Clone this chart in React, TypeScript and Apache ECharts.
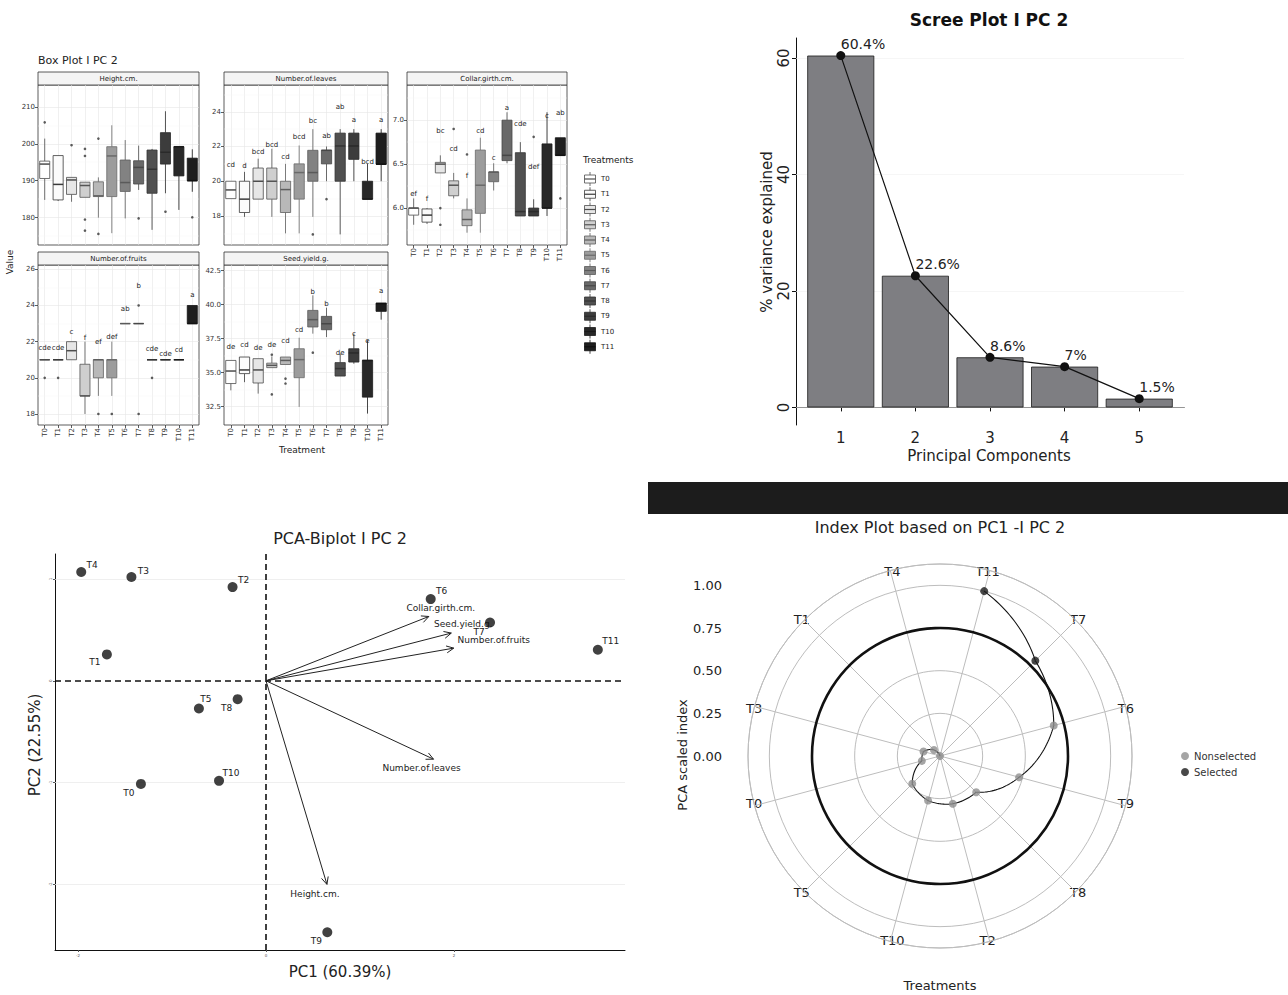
import { useEffect, useRef } from 'react';
import * as echarts from 'echarts';

const FONT = '"DejaVu Sans", sans-serif';

// ---------- Box plot data ----------
const treatments = ['T0', 'T1', 'T2', 'T3', 'T4', 'T5', 'T6', 'T7', 'T8', 'T9', 'T10', 'T11'];
const boxFills = ['#ffffff', '#fbfbfb', '#e6e6e6', '#cfcfcf', '#b8b8b8', '#9c9c9c', '#828282', '#696969', '#505050', '#3c3c3c', '#282828', '#1e1e1e'];
const boxLines = ['#4d4d4d', '#3a3a3a', '#4d4d4d', '#555555', '#5e5e5e', '#6a6a6a', '#5a5a5a', '#474747', '#333333', '#2a2a2a', '#1a1a1a', '#111111'];

// [lower whisker, Q1, median, Q3, upper whisker]
const heightStats = [
  [184.8, 190.6, 194.5, 195.3, 201.4], [184.5, 184.8, 189.0, 196.8, 196.8], [184.3, 186.3, 190.2, 190.9, 190.9],
  [185.5, 185.5, 188.7, 189.6, 189.6], [180.0, 185.7, 185.9, 189.7, 190.9], [175.8, 185.7, 196.7, 199.2, 205.0],
  [179.8, 187.1, 189.5, 195.6, 201.0], [187.5, 189.1, 193.6, 195.4, 199.5], [176.7, 186.6, 193.1, 198.3, 198.6],
  [186.6, 194.5, 197.7, 203.0, 208.8], [182.1, 191.3, 199.2, 199.2, 199.2], [187.0, 190.0, 190.0, 196.1, 198.5],
];
const heightOutliers = [[0, 205.8], [2, 199.6], [3, 198.6], [3, 196.7], [3, 179.5], [3, 176.5], [4, 201.4], [4, 175.6], [7, 179.8], [9, 181.6], [11, 180.1]];
const heightLetters: string[] = [];
const heightLetterY: number[] = [];
const heightRange = [172.6, 215.9];
const heightTicks = [180, 190, 200, 210];
const heightMinor = [175, 185, 195, 205, 215];

const leavesStats = [
  [19.0, 19.0, 19.5, 20.0, 20.0], [17.95, 18.2, 18.97, 20.0, 20.54], [18.97, 18.97, 20.0, 20.76, 21.3],
  [17.95, 18.97, 20.0, 20.76, 21.87], [17.0, 18.2, 19.52, 20.0, 21.0], [17.0, 18.97, 20.5, 21.0, 22.06],
  [17.95, 20.0, 20.5, 21.78, 23.0], [20.0, 21.0, 21.78, 21.78, 22.0], [16.94, 20.0, 22.03, 22.77, 23.0],
  [20.0, 21.26, 22.03, 22.77, 23.0], [18.97, 18.97, 18.97, 20.0, 21.0], [20.0, 20.98, 20.98, 22.77, 23.0],
];
const leavesOutliers = [[6, 16.94], [7, 18.97]];
const leavesLetters = ['cd', 'd', 'bcd', 'bcd', 'cd', 'bcd', 'bc', 'ab', 'ab', 'a', 'bcd', 'a'];
const leavesLetterY = [20.93, 20.9, 21.7, 22.08, 21.38, 22.52, 23.46, 22.6, 24.29, 23.52, 21.09, 23.52];
const leavesRange = [16.33, 25.54];
const leavesTicks = [18, 20, 22, 24];
const leavesMinor = [17, 19, 21, 23, 25];

const collarStats = [
  [5.81, 5.92, 6.0, 6.0, 6.11], [5.82, 5.84, 5.92, 5.99, 6.0], [6.4, 6.4, 6.5, 6.52, 6.6],
  [6.11, 6.14, 6.26, 6.31, 6.4], [5.72, 5.8, 5.87, 5.98, 6.11], [5.72, 5.94, 6.26, 6.66, 6.8],
  [6.2, 6.3, 6.41, 6.41, 6.51], [6.51, 6.54, 6.6, 7.0, 7.09], [5.91, 5.91, 5.96, 6.63, 6.75],
  [5.91, 5.91, 5.96, 6.0, 6.1], [5.91, 6.0, 6.0, 6.73, 7.09], [6.6, 6.6, 6.6, 6.8, 6.8],
];
const collarOutliers = [[2, 6.0], [2, 5.81], [3, 6.9], [4, 6.61], [9, 6.81], [11, 6.11]];
const collarLetters = ['ef', 'f', 'bc', 'cd', 'f', 'cd', 'c', 'a', 'cde', 'def', 'c', 'ab'];
const collarLetterY = [6.16, 6.1, 6.88, 6.67, 6.36, 6.88, 6.57, 7.14, 6.96, 6.47, 7.05, 7.08];
const collarRange = [5.58, 7.4];
const collarTicks = [6.0, 6.5, 7.0];
const collarMinor = [5.75, 6.25, 6.75, 7.25];

const fruitsStats = [
  [21, 21, 21, 21, 21], [21, 21, 21, 21, 21], [21, 21, 21.5, 22, 22],
  [18, 19, 19, 20.75, 22], [19, 20, 21, 21, 21], [19, 20, 21, 21, 22],
  [23, 23, 23, 23, 23], [23, 23, 23, 23, 23], [21, 21, 21, 21, 21],
  [21, 21, 21, 21, 21], [21, 21, 21, 21, 21], [23, 23, 23, 24, 24],
];
const fruitsOutliers = [[0, 20], [1, 20], [4, 18], [5, 18], [7, 24], [7, 18], [8, 20]];
const fruitsLetters = ['cde', 'cde', 'c', 'f', 'ef', 'def', 'ab', 'b', 'cde', 'cde', 'cd', 'a'];
const fruitsLetterY = [21.67, 21.67, 22.55, 22.2, 21.96, 22.24, 23.8, 25.1, 21.6, 21.3, 21.55, 24.6];
const fruitsRange = [17.39, 26.24];
const fruitsTicks = [18, 20, 22, 24, 26];
const fruitsMinor = [19, 21, 23, 25];

const seedStats = [
  [33.7, 34.2, 35.12, 35.9, 35.9], [34.3, 34.93, 35.2, 36.15, 36.15], [33.46, 34.24, 35.2, 36.03, 36.03],
  [35.37, 35.37, 35.54, 35.7, 36.2], [35.6, 35.6, 35.9, 36.15, 36.15], [32.48, 34.63, 35.96, 36.76, 37.57],
  [37.87, 38.36, 38.9, 39.58, 40.69], [37.62, 38.16, 38.6, 39.14, 39.78], [34.75, 34.75, 35.3, 35.74, 36.4],
  [35.66, 35.78, 36.45, 36.76, 37.87], [31.99, 33.2, 35.9, 35.9, 37.38], [38.9, 39.51, 40.08, 40.12, 40.12],
];
const seedOutliers = [[3, 36.32], [3, 33.4], [4, 34.56], [4, 34.2], [6, 36.47]];
const seedLetters = ['de', 'cd', 'de', 'de', 'cd', 'cd', 'b', 'b', 'de', 'c', 'e', 'a'];
const seedLetterY = [36.9, 37.03, 36.8, 37.03, 37.35, 38.14, 40.9, 40.05, 36.47, 37.84, 37.35, 41.0];
const seedRange = [31.15, 42.92];
const seedTicks = [32.5, 35.0, 37.5, 40.0, 42.5];
const seedMinor = [33.75, 36.25, 38.75, 41.25];

// ---------- Scree data ----------
const pcs = [1, 2, 3, 4, 5];
const varExplained = [60.4, 22.6, 8.6, 7, 1.5];

// ---------- Biplot data ----------
const biNames = ['T0', 'T1', 'T2', 'T3', 'T4', 'T5', 'T6', 'T7', 'T8', 'T9', 'T10', 'T11'];
const biPC1 = [-1.331, -1.693, -0.356, -1.432, -1.966, -0.714, 1.752, 2.383, -0.302, 0.652, -0.5, 3.53];
const biPC2 = [-1.013, 0.259, 0.921, 1.02, 1.069, -0.272, 0.803, 0.573, -0.18, -2.471, -0.983, 0.305];
const loadNames = ['Collar.girth.cm.', 'Seed.yield.g.', 'Number.of.fruits', 'Number.of.leaves', 'Height.cm.'];
const loadPC1 = [1.732, 1.971, 1.997, 1.782, 0.648];
const loadPC2 = [0.632, 0.469, 0.321, -0.77, -2.0];

// ---------- Index plot data ----------
const idxOrder = ['T11', 'T7', 'T6', 'T9', 'T8', 'T2', 'T10', 'T5', 'T0', 'T3', 'T1', 'T4'];
const idxValue = [1.0, 0.79, 0.69, 0.48, 0.3, 0.29, 0.27, 0.23, 0.11, 0.1, 0.05, 0.0];
const idxSelected = [true, true, false, false, false, false, false, false, false, false, false, false];
const idxThreshold = 0.75;

// ---------- layout (pixels) ----------
const panelLayout = [
  { left: 38, top: 85, width: 161, height: 160, showX: false, digits: 0 },
  { left: 224, top: 85, width: 164, height: 160, showX: false, digits: 0 },
  { left: 407, top: 85, width: 160, height: 160, showX: true, digits: 1 },
  { left: 38, top: 265, width: 161, height: 160, showX: true, digits: 0 },
  { left: 224, top: 265, width: 164, height: 160, showX: true, digits: 1 },
];
const biLabelOffset: Record<string, number[]> = {
  T0: [-12, 9], T1: [-12, 8], T2: [11, -7], T3: [12, -6], T4: [11, -7], T5: [7, -9],
  T6: [11, -8], T7: [-11, 10], T8: [-11, 9], T9: [-11, 9], T10: [12, -8], T11: [13, -9],
};
const loadLabelOffset = [[12, -8], [12, -9], [40, -8], [-12, 9], [-12, 10]];

function buildOption() {
  const panels = [
    { title: 'Height.cm.', stats: heightStats, outliers: heightOutliers, letters: heightLetters, letterY: heightLetterY, range: heightRange, ticks: heightTicks, minor: heightMinor },
    { title: 'Number.of.leaves', stats: leavesStats, outliers: leavesOutliers, letters: leavesLetters, letterY: leavesLetterY, range: leavesRange, ticks: leavesTicks, minor: leavesMinor },
    { title: 'Collar.girth.cm.', stats: collarStats, outliers: collarOutliers, letters: collarLetters, letterY: collarLetterY, range: collarRange, ticks: collarTicks, minor: collarMinor },
    { title: 'Number.of.fruits', stats: fruitsStats, outliers: fruitsOutliers, letters: fruitsLetters, letterY: fruitsLetterY, range: fruitsRange, ticks: fruitsTicks, minor: fruitsMinor },
    { title: 'Seed.yield.g.', stats: seedStats, outliers: seedOutliers, letters: seedLetters, letterY: seedLetterY, range: seedRange, ticks: seedTicks, minor: seedMinor },
  ];

  const grids: any[] = [];
  const xAxes: any[] = [];
  const yAxes: any[] = [];
  const series: any[] = [];
  const graphics: any[] = [];

  const txt = (text: string, x: number, y: number, size: number, opts: any = {}) => ({
    type: 'text', x, y, rotation: opts.rotation || 0, silent: true,
    style: {
      text, fontSize: size, fontFamily: FONT, fill: opts.color || '#222', fontWeight: opts.weight || 'normal',
      align: opts.align || 'center', verticalAlign: opts.valign || 'middle',
      textAlign: opts.align || 'center', textVerticalAlign: opts.valign || 'middle',
    },
  });
  const plainLabel = { textBorderWidth: 0, textBorderColor: 'transparent', textShadowBlur: 0 };

  // ---------- Box plot panels ----------
  panels.forEach((p, k) => {
    const L = panelLayout[k];
    grids.push({ left: L.left, top: L.top, width: L.width, height: L.height, show: true, borderColor: '#333', borderWidth: 0.8, backgroundColor: '#fff' });
    xAxes.push({
      gridIndex: k, type: 'category', data: treatments, boundaryGap: true,
      axisLine: { show: false },
      axisTick: { show: L.showX, alignWithLabel: true, length: 3, lineStyle: { color: '#333', width: 0.8 } },
      axisLabel: { show: L.showX, rotate: 90, fontSize: 7, color: '#333', margin: 3, fontFamily: FONT, interval: 0 },
      splitLine: { show: false },
    });
    yAxes.push({
      gridIndex: k, type: 'value', min: p.range[0], max: p.range[1],
      axisLine: { show: false },
      axisTick: { show: true, length: 3, customValues: p.ticks, lineStyle: { color: '#333', width: 0.8 } },
      axisLabel: { customValues: p.ticks, fontSize: 7, color: '#333', margin: 3, fontFamily: FONT, formatter: (v: number) => Number(v).toFixed(L.digits) },
      splitLine: { show: false },
    });
    graphics.push({ type: 'rect', silent: true, shape: { x: L.left, y: L.top - 13, width: L.width, height: 13 }, style: { fill: '#f4f4f4', stroke: '#333', lineWidth: 0.8 } });
    graphics.push(txt(p.title, L.left + L.width / 2, L.top - 6.5, 7));

    const stats = p.stats;
    series.push({
      type: 'custom', xAxisIndex: k, yAxisIndex: k, z: 3, silent: true,
      data: stats.map((s, i) => [i, ...s]),
      encode: { x: 0, y: [1, 2, 3, 4, 5] },
      renderItem: (params: any, api: any) => {
        const i = params.dataIndex;
        const s = stats[i];
        const x = api.coord([i, s[2]])[0];
        const w = api.size([1, 0])[0] * 0.75;
        const yy = s.map((v) => api.coord([i, v])[1]);
        const stroke = boxLines[i];
        return {
          type: 'group',
          children: [
            { type: 'line', shape: { x1: x, y1: yy[4], x2: x, y2: yy[3] }, style: { stroke, lineWidth: 0.8 } },
            { type: 'line', shape: { x1: x, y1: yy[1], x2: x, y2: yy[0] }, style: { stroke, lineWidth: 0.8 } },
            { type: 'rect', shape: { x: x - w / 2, y: yy[3], width: w, height: Math.max(yy[1] - yy[3], 0.01) }, style: { fill: boxFills[i], stroke, lineWidth: 0.8 } },
            { type: 'line', shape: { x1: x - w / 2, y1: yy[2], x2: x + w / 2, y2: yy[2] }, style: { stroke, lineWidth: 1.5 } },
          ],
        };
      },
    });
    series.push({
      type: 'scatter', xAxisIndex: k, yAxisIndex: k, z: 4, silent: true, symbolSize: 2.6,
      itemStyle: { color: '#333' }, data: p.outliers,
      markLine: {
        silent: true, symbol: 'none', z: 1, label: { show: false },
        data: [
          ...treatments.map((_, i) => ({ xAxis: i, lineStyle: { color: '#e6e6e6', width: 0.6, type: 'solid' } })),
          ...p.ticks.map((v) => ({ yAxis: v, lineStyle: { color: '#e6e6e6', width: 0.6, type: 'solid' } })),
          ...p.minor.map((v) => ({ yAxis: v, lineStyle: { color: '#f2f2f2', width: 0.4, type: 'solid' } })),
        ],
      },
    });
    if (p.letters.length) {
      const letters = p.letters;
      series.push({
        type: 'custom', xAxisIndex: k, yAxisIndex: k, z: 5, silent: true,
        data: p.letterY.map((y, i) => [i, y]),
        encode: { x: 0, y: 1 },
        renderItem: (params: any, api: any) => {
          const pt = api.coord([api.value(0), api.value(1)]);
          return {
            type: 'group',
            children: [{
              type: 'text', x: pt[0], y: pt[1],
              style: { text: letters[params.dataIndex], fontSize: 7, fontFamily: FONT, fill: '#222', align: 'center', verticalAlign: 'middle' },
            }],
          };
        },
      });
    }
  });

  graphics.push(txt('Box Plot I PC 2', 38, 60, 11, { align: 'left' }));
  graphics.push(txt('Value', 10, 262, 9, { rotation: Math.PI / 2 }));
  graphics.push(txt('Treatment', 302, 450, 9));
  graphics.push(txt('Treatments', 583, 160, 9, { align: 'left' }));
  treatments.forEach((t, i) => {
    const y = 179 + i * 15.25;
    graphics.push({ type: 'line', silent: true, shape: { x1: 590, y1: y - 7, x2: 590, y2: y + 7 }, style: { stroke: boxLines[i], lineWidth: 0.8 } });
    graphics.push({ type: 'rect', silent: true, shape: { x: 584.5, y: y - 4, width: 11, height: 8 }, style: { fill: boxFills[i], stroke: boxLines[i], lineWidth: 0.8 } });
    graphics.push({ type: 'line', silent: true, shape: { x1: 584.5, y1: y, x2: 595.5, y2: y }, style: { stroke: boxLines[i], lineWidth: 1.2 } });
    graphics.push(txt(t, 601, y, 7, { align: 'left' }));
  });

  // ---------- Scree plot (grid 5) ----------
  grids.push({ left: 796, top: 38, width: 388, height: 387, show: false });
  xAxes.push({
    gridIndex: 5, type: 'value', min: 0.4, max: 5.6,
    axisLine: { show: true, lineStyle: { color: '#111', width: 1 } },
    axisTick: { show: true, customValues: pcs, length: 4, lineStyle: { color: '#111' } },
    axisLabel: { customValues: pcs, fontSize: 15, color: '#222', margin: 5, fontFamily: FONT },
    splitLine: { show: false },
  });
  yAxes.push({
    gridIndex: 5, type: 'value', min: -3.02, max: 63.42,
    axisLine: { show: true, lineStyle: { color: '#111', width: 1 } },
    axisTick: { show: true, customValues: [0, 20, 40, 60], length: 4, lineStyle: { color: '#111' } },
    axisLabel: { customValues: [0, 20, 40, 60], rotate: 90, fontSize: 15, color: '#222', margin: 5, fontFamily: FONT },
    splitLine: { show: false },
  });
  series.push({
    type: 'bar', xAxisIndex: 5, yAxisIndex: 5, z: 2, silent: true, barWidth: 67,
    data: pcs.map((c, i) => [c, varExplained[i]]),
    itemStyle: { color: '#7e7e82', borderColor: '#1a1a1a', borderWidth: 0.8 },
    markLine: {
      silent: true, symbol: 'none', z: 1, label: { show: false },
      data: [0, 20, 40, 60].map((v) => ({ yAxis: v, lineStyle: { color: '#f0f0f0', width: 0.6, type: 'solid' } })),
    },
  });
  series.push({
    type: 'line', xAxisIndex: 5, yAxisIndex: 5, z: 4, silent: true,
    data: pcs.map((c, i) => [c, varExplained[i]]),
    symbol: 'circle', symbolSize: 9, itemStyle: { color: '#111' }, lineStyle: { color: '#111', width: 1.2 },
    label: { show: true, position: 'top', align: 'left', distance: 0, fontSize: 14, color: '#222', fontFamily: FONT, formatter: (q: any) => `${q.value[1]}%`, ...plainLabel },
  });
  graphics.push(txt('Scree Plot I PC 2', 989, 20, 17, { weight: 'bold', color: '#111' }));
  graphics.push(txt('% variance explained', 767, 232, 15, { rotation: Math.PI / 2 }));
  graphics.push(txt('Principal Components', 989, 456, 15));

  // ---------- Biplot (grid 6) ----------
  grids.push({ left: 55, top: 554, width: 570, height: 396, show: false });
  xAxes.push({
    gridIndex: 6, type: 'value', min: -2.245, max: 3.819,
    axisLine: { show: true, onZero: false, lineStyle: { color: '#111', width: 1 } },
    axisTick: { show: true, customValues: [-2, 0, 2], length: 2, lineStyle: { color: '#555' } },
    axisLabel: { customValues: [-2, 0, 2], fontSize: 4, color: '#555', margin: 3, fontFamily: FONT },
    splitLine: { show: false },
  });
  yAxes.push({
    gridIndex: 6, type: 'value', min: -2.645, max: 1.246,
    axisLine: { show: true, onZero: false, lineStyle: { color: '#111', width: 1 } },
    axisTick: { show: true, customValues: [-2, -1, 0, 1], length: 2, lineStyle: { color: '#555' } },
    axisLabel: { customValues: [-2, -1, 0, 1], fontSize: 4, color: '#555', margin: 3, rotate: 90, fontFamily: FONT },
    splitLine: { show: false },
  });
  series.push({
    type: 'scatter', xAxisIndex: 6, yAxisIndex: 6, z: 4, silent: true, symbolSize: 10,
    itemStyle: { color: '#111' },
    data: biNames.map((n, i) => [biPC1[i], biPC2[i]]),
    markLine: {
      silent: true, symbol: 'none', z: 1, label: { show: false },
      data: [
        ...[-2, -1, 1].map((v) => ({ yAxis: v, lineStyle: { color: '#ebebeb', width: 0.8, type: 'solid' } })),
        { yAxis: 0, lineStyle: { color: '#111', width: 1.6, type: [6, 4] } },
        { xAxis: 0, lineStyle: { color: '#111', width: 1.6, type: [6, 4] } },
      ],
    },
  });
  series.push({
    type: 'custom', xAxisIndex: 6, yAxisIndex: 6, z: 5, silent: true,
    data: biNames.map((n, i) => [biPC1[i], biPC2[i]]),
    encode: { x: 0, y: 1 },
    renderItem: (params: any, api: any) => {
      const n = biNames[params.dataIndex];
      const pt = api.coord([api.value(0), api.value(1)]);
      const off = biLabelOffset[n];
      return {
        type: 'group',
        children: [{
          type: 'text', x: pt[0] + off[0], y: pt[1] + off[1],
          style: { text: n, fontSize: 9, fontFamily: FONT, fill: '#222', align: 'center', verticalAlign: 'middle' },
        }],
      };
    },
  });
  series.push({
    type: 'custom', xAxisIndex: 6, yAxisIndex: 6, z: 3, silent: true,
    data: loadNames.map((_, i) => [loadPC1[i], loadPC2[i]]),
    encode: { x: 0, y: 1 },
    renderItem: (params: any, api: any) => {
      const i = params.dataIndex;
      const o = api.coord([0, 0]);
      const e = api.coord([api.value(0), api.value(1)]);
      const ang = Math.atan2(e[1] - o[1], e[0] - o[0]);
      const len = 8, spread = Math.PI / 7;
      const p1 = [e[0] - len * Math.cos(ang - spread), e[1] - len * Math.sin(ang - spread)];
      const p2 = [e[0] - len * Math.cos(ang + spread), e[1] - len * Math.sin(ang + spread)];
      const off = loadLabelOffset[i];
      return {
        type: 'group',
        children: [
          { type: 'line', shape: { x1: o[0], y1: o[1], x2: e[0], y2: e[1] }, style: { stroke: '#222', lineWidth: 1 } },
          { type: 'polyline', shape: { points: [p1, e, p2] }, style: { stroke: '#222', lineWidth: 1, fill: 'none' } },
          { type: 'text', x: e[0] + off[0], y: e[1] + off[1], style: { text: loadNames[i], fontSize: 9, fontFamily: FONT, fill: '#222', align: 'center', verticalAlign: 'middle' } },
        ],
      };
    },
  });
  graphics.push(txt('PCA-Biplot I PC 2', 340, 538, 16));
  graphics.push(txt('PC1 (60.39%)', 340, 972, 15));
  graphics.push(txt('PC2 (22.55%)', 35, 745, 15, { rotation: Math.PI / 2 }));

  // ---------- Black band ----------
  graphics.push({ type: 'rect', silent: true, shape: { x: 648, y: 482, width: 640, height: 32 }, style: { fill: '#1c1c1c' } });

  // ---------- Index plot radius labels (grid 7) ----------
  grids.push({ left: 730, top: 564, width: 10, height: 192, show: false });
  xAxes.push({ gridIndex: 7, type: 'value', show: false });
  yAxes.push({
    gridIndex: 7, type: 'value', min: 0, max: 1.125, interval: 0.25,
    axisLine: { show: false }, axisTick: { show: false }, splitLine: { show: false },
    axisLabel: { fontSize: 13, color: '#222', margin: 8, fontFamily: FONT, formatter: (v: number) => (v > 1.001 ? '' : Number(v).toFixed(2)) },
  });
  graphics.push(txt('Index Plot based on PC1 -I PC 2', 940, 527, 16));
  graphics.push(txt('PCA scaled index', 682, 755, 13, { rotation: Math.PI / 2 }));
  graphics.push(txt('Treatments', 940, 985, 13));

  series.push({
    type: 'custom', coordinateSystem: 'polar', polarIndex: 0, z: 2, silent: true,
    data: [[idxThreshold, 0]],
    renderItem: (params: any, api: any) => {
      const c = api.coord([0, 0]);
      const r = api.coord([api.value(0), 0])[2];
      return { type: 'circle', shape: { cx: c[0], cy: c[1], r }, style: { fill: 'none', stroke: '#111', lineWidth: 2.6 } };
    },
  });
  series.push({
    type: 'custom', coordinateSystem: 'polar', polarIndex: 0, z: 3, silent: true,
    data: idxValue.map((v, i) => [v, i]),
    renderItem: (params: any, api: any) => {
      const i = params.dataIndex;
      if (i === 0) return { type: 'group', children: [] };
      const r0 = idxValue[i - 1], r1 = idxValue[i];
      const pts: number[][] = [];
      const steps = 24;
      for (let s = 0; s <= steps; s++) {
        const t = s / steps;
        const pt = api.coord([r0 + (r1 - r0) * t, i - 1 + t]);
        pts.push([pt[0], pt[1]]);
      }
      return { type: 'polyline', shape: { points: pts }, style: { stroke: '#111', lineWidth: 1.1, fill: 'none' } };
    },
  });
  series.push({
    name: 'Nonselected', type: 'scatter', coordinateSystem: 'polar', polarIndex: 0, z: 4, silent: true,
    symbolSize: 8, itemStyle: { color: '#8f8f8f' },
    data: idxValue.map((v, i) => (idxSelected[i] ? null : [v, i])).filter((d) => d),
  });
  series.push({
    name: 'Selected', type: 'scatter', coordinateSystem: 'polar', polarIndex: 0, z: 4, silent: true,
    symbolSize: 8, itemStyle: { color: '#1a1a1a' },
    data: idxValue.map((v, i) => (idxSelected[i] ? [v, i] : null)).filter((d) => d),
  });

  return {
    animation: false,
    backgroundColor: '#ffffff',
    textStyle: { fontFamily: FONT },
    grid: grids,
    xAxis: xAxes,
    yAxis: yAxes,
    polar: [{ center: [940, 756], radius: 192 }],
    angleAxis: [{
      polarIndex: 0, type: 'value', min: 0, max: 12, interval: 1, startAngle: 75, clockwise: true,
      axisLine: { show: true, lineStyle: { color: '#bdbdbd', width: 1 } },
      axisTick: { show: false },
      axisLabel: { fontSize: 13, color: '#222', margin: -8, fontFamily: FONT, formatter: (v: number) => (v >= 0 && v < 12 ? idxOrder[Math.round(v)] : '') },
      splitLine: { show: true, lineStyle: { color: '#bdbdbd', width: 1 } },
    }],
    radiusAxis: [{
      polarIndex: 0, type: 'value', min: 0, max: 1.125, interval: 0.25,
      axisLine: { show: false }, axisTick: { show: false }, axisLabel: { show: false },
      splitLine: { show: true, lineStyle: { color: '#bdbdbd', width: 1 } },
    }],
    legend: {
      data: ['Nonselected', 'Selected'], orient: 'vertical', left: 1176, top: 746, itemGap: 6,
      icon: 'circle', itemWidth: 8, itemHeight: 8, selectedMode: false,
      textStyle: { fontSize: 10, color: '#333', fontFamily: FONT },
    },
    graphic: { elements: graphics },
    series,
  };
}

export default function App() {
  const ref = useRef<HTMLDivElement>(null);
  useEffect(() => {
    const chart = echarts.init(ref.current as HTMLDivElement, null, { renderer: 'svg' });
    chart.setOption(buildOption() as any);
    return () => chart.dispose();
  }, []);
  return <div ref={ref} style={{ position: 'absolute', left: 0, top: 0, width: 1288, height: 995, background: '#fff' }} />;
}
